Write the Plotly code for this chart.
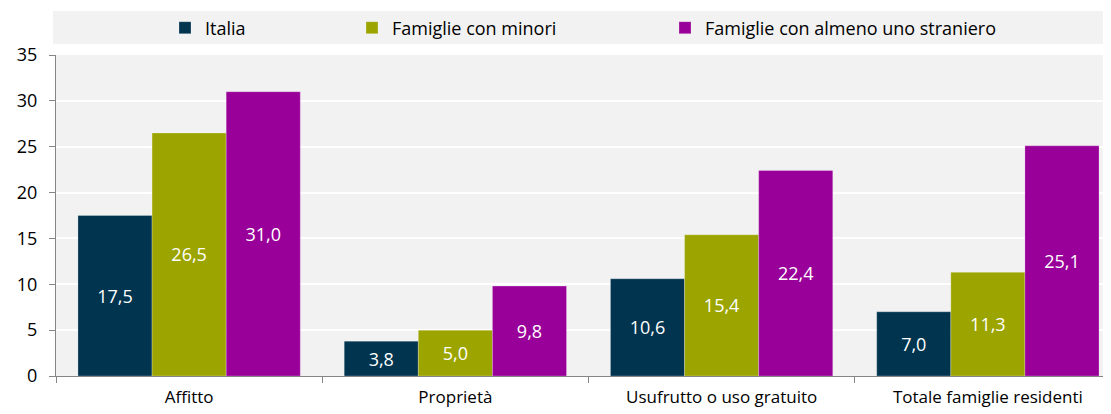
import plotly.graph_objects as go

categories = ["Affitto", "Proprietà", "Usufrutto o uso gratuito", "Totale famiglie residenti"]
series_names = ["Italia", "Famiglie con minori", "Famiglie con almeno uno straniero"]
italia = [17.5, 3.8, 10.6, 7.0]
minori = [26.5, 5.0, 15.4, 11.3]
straniero = [31.0, 9.8, 22.4, 25.1]
y_ticks = [0, 5, 10, 15, 20, 25, 30, 35]

colors = ["#00344F", "#9CA500", "#990099"]
values = [italia, minori, straniero]
legends = ["legend", "legend2", "legend3"]

OFF = 8  # page body margin
W, H = 1111 - OFF, 414 - OFF
# target pixel positions in the page
axis_left, plot_right, plot_top, plot_bottom = 56, 1111, 55, 376
ml = axis_left - OFF
mr = 0
mt = plot_top - OFF
mb = 414 - plot_bottom
pw = W - ml - mr
ph = H - mt - mb

def px_x(p):
    return (p - axis_left) / pw

def px_y(p):
    return (plot_bottom - p) / ph

FONT = "Open Sans"
FS = 18
fig = go.Figure()
for name, vals, col, lg in zip(series_names, values, colors, legends):
    fig.add_trace(go.Bar(
        x=categories, y=vals, name=name, legend=lg,
        marker=dict(color=col, line=dict(color="rgba(255,255,255,0.5)", width=0.5)),
        texttemplate="%{y:.1f}", textposition="inside", insidetextanchor="middle",
        textfont=dict(color="white", size=FS, family=FONT),
        constraintext="none", hoverinfo="skip",
    ))

leg_common = dict(orientation="h", yanchor="middle", xanchor="left",
                  bgcolor="rgba(0,0,0,0)", font=dict(size=FS, color="#000000", family=FONT),
                  y=px_y(28), borderwidth=0)
fig.update_layout(
    width=W, height=H,
    margin=dict(l=ml, r=mr, t=mt, b=mb, autoexpand=False),
    paper_bgcolor="white", plot_bgcolor="#F2F2F2",
    separators=",.",
    barmode="group", bargap=0.165, bargroupgap=0,
    font=dict(family=FONT, size=FS, color="#000000"),
    legend=dict(x=px_x(165), **leg_common),
    legend2=dict(x=px_x(352), **leg_common),
    legend3=dict(x=px_x(665), **leg_common),
    showlegend=True,
    shapes=[dict(type="rect", xref="paper", yref="paper",
                 x0=px_x(53), x1=1.0, y0=px_y(44), y1=px_y(11),
                 fillcolor="#F2F2F2", line=dict(width=0), layer="below")],
    xaxis=dict(range=[-0.5, -0.5 + 4 * pw / (1121 - axis_left)], showline=True, linecolor="#868686", linewidth=1,
               ticks="outside", tickson="boundaries", ticklen=6, tickcolor="#868686",
               showgrid=False, tickfont=dict(size=17, family=FONT), ticklabelstandoff=6),
    yaxis=dict(range=[0, 35], tickvals=y_ticks, showline=True, linecolor="#868686", linewidth=1,
               ticks="outside", ticklen=6, tickcolor="#868686",
               showgrid=True, gridcolor="white", gridwidth=2, zeroline=False,
               tickfont=dict(size=FS, family=FONT), ticklabelstandoff=8),
)
fig.write_html("out.html")
